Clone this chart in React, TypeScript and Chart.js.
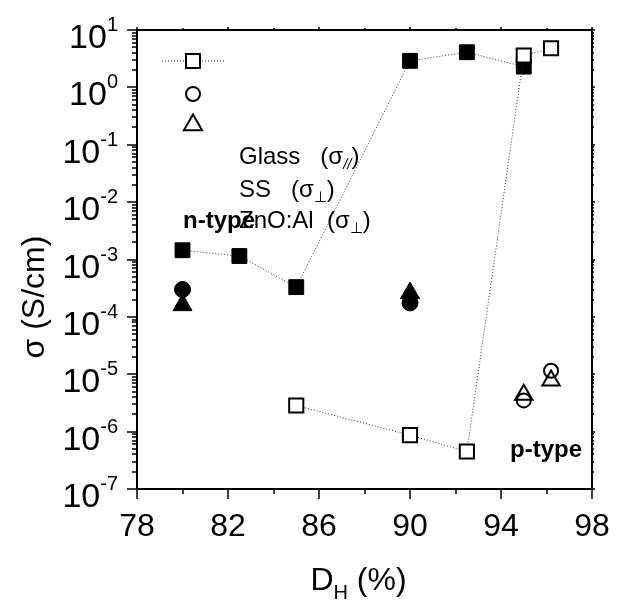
import React, { useEffect, useRef } from 'react';
import { Chart, registerables } from 'chart.js';

Chart.register(...registerables);

const FONT = '"Liberation Sans", Arial, Helvetica, sans-serif';

// Axis ranges and tick labels
const X_MIN = 78;
const X_MAX = 98;
const Y_MIN = 1e-7;
const Y_MAX = 10;
const xMajorTicks = [78, 82, 86, 90, 94, 98];
const xMinorTicks = [80, 84, 88, 92, 96];
const yTickExponents = [-7, -6, -5, -4, -3, -2, -1, 0, 1];

// Glass (sigma //) - n-type (filled squares) and p-type (open squares)
const glassNX = [80, 82.5, 85, 90, 92.5, 95];
const glassNY = [1.45e-3, 1.15e-3, 3.3e-4, 2.9, 4.1, 2.3];
const glassPX = [85, 90, 92.5, 95, 96.2];
const glassPY = [2.85e-6, 8.7e-7, 4.5e-7, 3.6, 4.8];

// SS (sigma perp) - circles
const ssNX = [80, 90];
const ssNY = [3.0e-4, 1.75e-4];
const ssPX = [95, 96.2];
const ssPY = [3.5e-6, 1.15e-5];

// ZnO:Al (sigma perp) - triangles
const azoNX = [80, 90];
const azoNY = [1.6e-4, 2.6e-4];
const azoPX = [95, 96.2];
const azoPY = [4.4e-6, 7.8e-6];

const legendNames = ['Glass', 'SS', 'ZnO:Al'];
const legendSpaces = ['   ', '   ', '  '];
const legendSubs = ['//', '\u22A5', '\u22A5'];

const pts = (xs: number[], ys: number[]) => xs.map((x, i) => ({ x, y: ys[i] }));

type Part = { t: string; size: number; weight?: string; style?: string; dy?: number };

function drawParts(ctx: CanvasRenderingContext2D, x: number, y: number, parts: Part[]) {
  let cx = x;
  for (const p of parts) {
    ctx.font = `${p.style || 'normal'} ${p.weight || 'normal'} ${p.size}px ${FONT}`;
    ctx.fillText(p.t, cx, y + (p.dy || 0));
    cx += ctx.measureText(p.t).width;
  }
  return cx;
}

function partsWidth(ctx: CanvasRenderingContext2D, parts: Part[]) {
  let w = 0;
  for (const p of parts) {
    ctx.font = `${p.style || 'normal'} ${p.weight || 'normal'} ${p.size}px ${FONT}`;
    w += ctx.measureText(p.t).width;
  }
  return w;
}

const axesPlugin = {
  id: 'customAxes',
  beforeDatasetsDraw(chart: any) {
    const { ctx, chartArea } = chart;
    const { left, right, top, bottom } = chartArea;
    const xs = chart.scales.x;
    const ys = chart.scales.y;
    ctx.save();
    ctx.strokeStyle = '#000';
    ctx.lineWidth = 2;
    ctx.strokeRect(left, top, right - left, bottom - top);

    ctx.lineWidth = 1.5;
    ctx.beginPath();
    // x ticks
    for (const v of xMajorTicks) {
      const px = Math.round(xs.getPixelForValue(v));
      ctx.moveTo(px, bottom);
      ctx.lineTo(px, bottom + 10);
      ctx.moveTo(px, top);
      ctx.lineTo(px, top - 3);
    }
    for (const v of xMinorTicks) {
      const px = Math.round(xs.getPixelForValue(v));
      ctx.moveTo(px, bottom);
      ctx.lineTo(px, bottom + 5);
      ctx.moveTo(px, top);
      ctx.lineTo(px, top - 2);
    }
    // y ticks
    for (const e of yTickExponents) {
      const py = Math.round(ys.getPixelForValue(Math.pow(10, e)));
      ctx.moveTo(left, py);
      ctx.lineTo(left - 10, py);
      ctx.moveTo(right, py);
      ctx.lineTo(right + 3, py);
      if (e < 1) {
        for (let m = 2; m <= 9; m++) {
          const pm = Math.round(ys.getPixelForValue(m * Math.pow(10, e)));
          ctx.moveTo(left, pm);
          ctx.lineTo(left - 5, pm);
          ctx.moveTo(right, pm);
          ctx.lineTo(right + 2, pm);
        }
      }
    }
    ctx.stroke();
    ctx.restore();
  },
  afterDraw(chart: any) {
    const { ctx, chartArea } = chart;
    const { left, right, top, bottom } = chartArea;
    const xs = chart.scales.x;
    const ys = chart.scales.y;
    ctx.save();
    ctx.fillStyle = '#000';
    ctx.textBaseline = 'alphabetic';

    // x tick labels
    ctx.font = `32px ${FONT}`;
    ctx.textAlign = 'center';
    for (const v of xMajorTicks) {
      ctx.fillText(String(v), xs.getPixelForValue(v), bottom + 47);
    }

    // y tick labels 10^e
    ctx.textAlign = 'left';
    for (const e of yTickExponents) {
      const py = ys.getPixelForValue(Math.pow(10, e));
      const parts: Part[] = [
        { t: '10', size: 34, dy: 18 },
        { t: String(e).replace('-', '-'), size: 20, dy: 1 },
      ];
      const w = partsWidth(ctx, parts);
      drawParts(ctx, left - 19 - w, py, parts);
    }

    // y axis title
    ctx.save();
    ctx.translate(44, 297);
    ctx.rotate(-Math.PI / 2);
    ctx.textAlign = 'center';
    ctx.font = `32px ${FONT}`;
    ctx.fillText('\u03C3 (S/cm)', 0, 0);
    ctx.restore();

    // x axis title D_H (%)
    ctx.textAlign = 'left';
    const xt: Part[] = [
      { t: 'D', size: 32 },
      { t: 'H', size: 20, dy: 9 },
      { t: ' (%)', size: 32 },
    ];
    const xw = partsWidth(ctx, xt);
    drawParts(ctx, (left + right) / 2 - 6 - xw / 2, 590, xt);

    // Legend markers
    const lx = left + 56;
    const ly0 = top + 31;
    ctx.strokeStyle = '#333';
    ctx.lineWidth = 1;
    ctx.setLineDash([1, 2]);
    ctx.beginPath();
    ctx.moveTo(lx - 31, ly0);
    ctx.lineTo(lx - 9, ly0);
    ctx.moveTo(lx + 9, ly0);
    ctx.lineTo(lx + 33, ly0);
    ctx.stroke();
    ctx.setLineDash([]);
    ctx.strokeStyle = '#000';
    ctx.lineWidth = 2;
    ctx.fillStyle = '#fff';
    ctx.fillRect(lx - 7, ly0 - 7, 14, 14);
    ctx.strokeRect(lx - 7, ly0 - 7, 14, 14);
    ctx.beginPath();
    ctx.arc(lx, top + 64, 7, 0, Math.PI * 2);
    ctx.stroke();
    const ty = top + 95;
    const r = 10.5;
    ctx.beginPath();
    ctx.moveTo(lx, ty - r);
    ctx.lineTo(lx + r * 0.866, ty + r * 0.5);
    ctx.lineTo(lx - r * 0.866, ty + r * 0.5);
    ctx.closePath();
    ctx.stroke();

    // Legend texts
    ctx.fillStyle = '#000';
    const tx = left + 102;
    const baselines = [top + 134, top + 167, top + 198];
    legendNames.forEach((name, i) => {
      drawParts(ctx, tx, baselines[i], [
        { t: name + legendSpaces[i] + '(\u03C3', size: 24 },
        { t: legendSubs[i], size: 15, style: i === 0 ? 'italic' : 'normal', dy: 5 },
        { t: ')', size: 24 },
      ]);
    });

    // n-type / p-type labels
    ctx.font = `bold 24px ${FONT}`;
    ctx.fillText('n-type', left + 46, top + 198);
    ctx.fillText('p-type', right - 82, bottom - 32);

    ctx.restore();
  },
};

export default function App() {
  const canvasRef = useRef<HTMLCanvasElement | null>(null);

  useEffect(() => {
    const canvas = canvasRef.current;
    if (!canvas) return;
    const dotted = {
      showLine: true,
      borderColor: '#333',
      borderWidth: 1,
      borderDash: [1, 2],
    };
    const chart = new Chart(canvas, {
      type: 'scatter',
      data: {
        datasets: [
          {
            label: 'Glass p',
            data: pts(glassPX, glassPY),
            ...dotted,
            pointStyle: 'rect',
            pointRadius: 10,
            pointBorderWidth: 2,
            pointBorderColor: '#000',
            pointBackgroundColor: '#fff',
            order: 0,
          },
          {
            label: 'Glass n',
            data: pts(glassNX, glassNY),
            ...dotted,
            pointStyle: 'rect',
            pointRadius: 10.5,
            pointBorderWidth: 1,
            pointBorderColor: '#000',
            pointBackgroundColor: '#000',
            order: 1,
          },
          {
            label: 'SS n',
            data: pts(ssNX, ssNY),
            showLine: false,
            pointStyle: 'circle',
            pointRadius: 8,
            pointBorderWidth: 1,
            pointBorderColor: '#000',
            pointBackgroundColor: '#000',
            order: 2,
          },
          {
            label: 'ZnO:Al n',
            data: pts(azoNX, azoNY),
            showLine: false,
            pointStyle: 'triangle',
            pointRadius: 11,
            pointBorderWidth: 1,
            pointBorderColor: '#000',
            pointBackgroundColor: '#000',
            order: 3,
          },
          {
            label: 'SS p',
            data: pts(ssPX, ssPY),
            showLine: false,
            pointStyle: 'circle',
            pointRadius: 7,
            pointBorderWidth: 2,
            pointBorderColor: '#000',
            pointBackgroundColor: 'rgba(0,0,0,0)',
            order: 4,
          },
          {
            label: 'ZnO:Al p',
            data: pts(azoPX, azoPY),
            showLine: false,
            pointStyle: 'triangle',
            pointRadius: 10,
            pointBorderWidth: 2,
            pointBorderColor: '#000',
            pointBackgroundColor: 'rgba(0,0,0,0)',
            order: 5,
          },
        ] as any,
      },
      options: {
        animation: false,
        responsive: false,
        devicePixelRatio: 1,
        layout: { padding: { left: 137, top: 30, right: 25, bottom: 121 } },
        scales: {
          x: { type: 'linear', min: X_MIN, max: X_MAX, display: false },
          y: { type: 'logarithmic', min: Y_MIN, max: Y_MAX, display: false },
        },
        elements: { line: { tension: 0 } },
        plugins: {
          legend: { display: false },
          tooltip: { enabled: false },
        },
        clip: false as any,
      } as any,
      plugins: [axesPlugin],
    });
    return () => chart.destroy();
  }, []);

  return (
    <div style={{ position: 'fixed', left: 0, top: 0, width: 617, height: 610, background: '#fff' }}>
      <canvas ref={canvasRef} width={617} height={610} style={{ display: 'block' }} />
    </div>
  );
}
